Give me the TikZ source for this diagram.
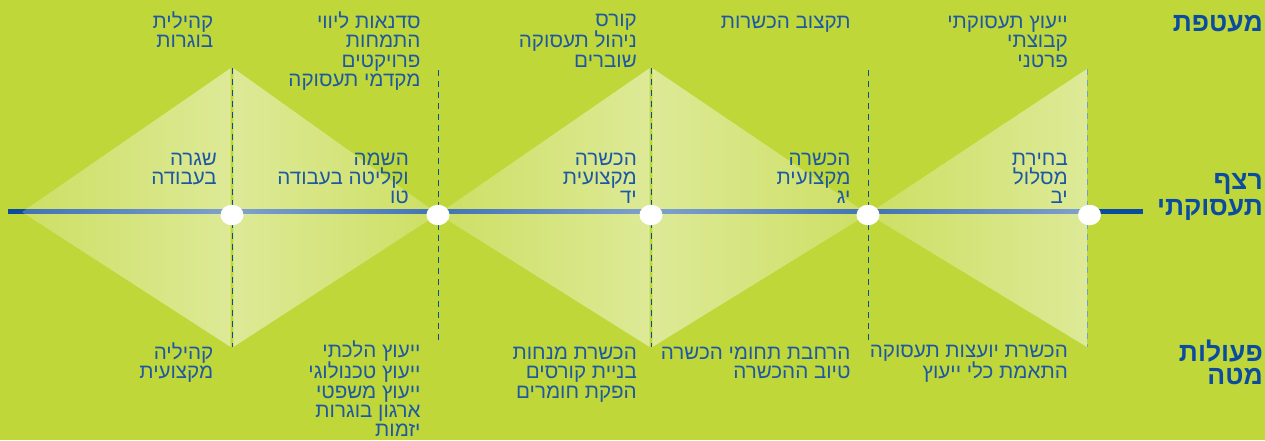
\documentclass[tikz,border=0pt]{standalone}
\usepackage{fontspec}
\usepackage{tikz}
\usetikzlibrary{shapes.geometric, fadings, positioning, calc}
\setmainfont{Liberation Sans}
\newfontfamily\hebfont[Script=Hebrew]{Liberation Sans}
\TeXXeTstate=1
\newcommand{\heb}[1]{\beginR#1\endR}
\definecolor{bggreen}{RGB}{191,215,56}
\definecolor{txtblue}{RGB}{30,88,164}
\definecolor{lineblue}{RGB}{12,76,158}
\definecolor{dashblue}{RGB}{110,160,214}
\tikzfading[name=fadeedgeright, left color=transparent!78, right color=transparent!52]
\tikzfading[name=fadeedgeleft, left color=transparent!52, right color=transparent!78]

\begin{document}
\begin{tikzpicture}[x=1pt, y=-1pt,
  lbl/.style={anchor=base east, inner sep=0pt, align=right, text=txtblue, font=\hebfont\fontsize{20.6}{19.3}\selectfont},
  head/.style={anchor=base east, inner sep=0pt, align=right, text=lineblue, font=\hebfont\bfseries\fontsize{26.5}{26}\selectfont},
  dot/.style={ellipse, fill=white, minimum width=23pt, minimum height=20.5pt, inner sep=0pt},
  guide/.style={dash pattern=on 6pt off 5pt, line width=1pt, lineblue}]
% Background
\fill[bggreen] (0,0) rectangle (1265,440);
\useasboundingbox (0,0) rectangle (1265,440);

% Timeline (under the light wedges)
\coordinate (lstart) at (8,211.5);
\coordinate (lend) at (1143,211.5);
\draw[lineblue, line width=4.5pt] (lstart) -- (lend);

% Light wedges
\fill[white, path fading=fadeedgeright] (22,212) -- (230.7,68) -- (230.7,347) -- cycle;
\fill[white, path fading=fadeedgeleft] (233.3,68) -- (438,214) -- (233.3,347) -- cycle;
\fill[white, path fading=fadeedgeright] (438,214) -- (649.7,68) -- (649.7,347) -- cycle;
\fill[white, path fading=fadeedgeleft] (652.3,68) -- (868,214) -- (652.3,347) -- cycle;
\fill[white, path fading=fadeedgeright] (868,214) -- (1087,69) -- (1087,347) -- cycle;

% Dashed guides
\draw[guide] (232,68) -- (232,347);
\draw[guide] (438,70) -- (438,342);
\draw[guide] (651,68) -- (651,347);
\draw[guide] (868,70) -- (868,342);
\draw[guide, dashblue] (1087,69) -- (1087,347);

% Stations on the timeline
\node[dot] (p1) at (232,215) {};
\node[dot] (p2) at (438,215) {};
\node[dot] (p3) at (651,215) {};
\node[dot] (p4) at (868,215) {};
\node[dot] (p5) at (1089.5,215) {};

% Row headings (base = last line)
\node[head] (hwrap) at (1263,31) {\heb{מעטפת}};
\node[head] (hflow) at (1263,215) {\heb{רצף}\\\heb{תעסוקתי}};
\node[head] (hstaff) at (1263,384) {\heb{פעולות}\\[-3pt]\heb{מטה}};

% Top row
\node[lbl] (top1) at (213.5,47.8) {\heb{קהילית}\\\heb{בוגרות}};
\node[lbl] (top2) at (420.7,86.4) {\heb{סדנאות ליווי}\\\heb{התמחות}\\\heb{פרויקטים}\\\heb{מקדמי תעסוקה}};
\node[lbl] (top3) at (637,67.1) {\heb{קורס}\\\heb{ניהול תעסוקה}\\\heb{שוברים}};
\node[lbl] (top4) at (850.7,28.5) {\heb{תקצוב הכשרות}};
\node[lbl] (top5) at (1068,67.1) {\heb{ייעוץ תעסוקתי}\\\heb{קבוצתי}\\\heb{פרטני}};

% Middle row
\node[lbl] (mid1) at (217,184.3) {\heb{שגרה}\\\heb{בעבודה}};
\node[lbl] (mid2) at (409,203.6) {\heb{השמה}\\\heb{וקליטה בעבודה}\\\heb{טו}};
\node[lbl] (mid3) at (637,203.6) {\heb{הכשרה}\\\heb{מקצועית}\\\heb{יד}};
\node[lbl] (mid4) at (850.7,203.6) {\heb{הכשרה}\\\heb{מקצועית}\\\heb{יג}};
\node[lbl] (mid5) at (1068,203.6) {\heb{בחירת}\\\heb{מסלול}\\\heb{יב}};

% Bottom row
\node[lbl] (bot1) at (213.5,378.8) {\heb{קהיליה}\\\heb{מקצועית}};
\node[lbl] (bot2) at (420.7,436.7) {\heb{ייעוץ הלכתי}\\\heb{ייעוץ טכנולוגי}\\\heb{ייעוץ משפטי}\\\heb{ארגון בוגרות}\\\heb{יזמות}};
\node[lbl] (bot3) at (637,398.1) {\heb{הכשרת מנחות}\\\heb{בניית קורסים}\\\heb{הפקת חומרים}};
\node[lbl] (bot4) at (850.7,378.8) {\heb{הרחבת תחומי הכשרה}\\\heb{טיוב ההכשרה}};
\node[lbl] (bot5) at (1068,378.8) {\heb{הכשרת יועצות תעסוקה}\\\heb{התאמת כלי ייעוץ}};
\end{tikzpicture}
\end{document}
